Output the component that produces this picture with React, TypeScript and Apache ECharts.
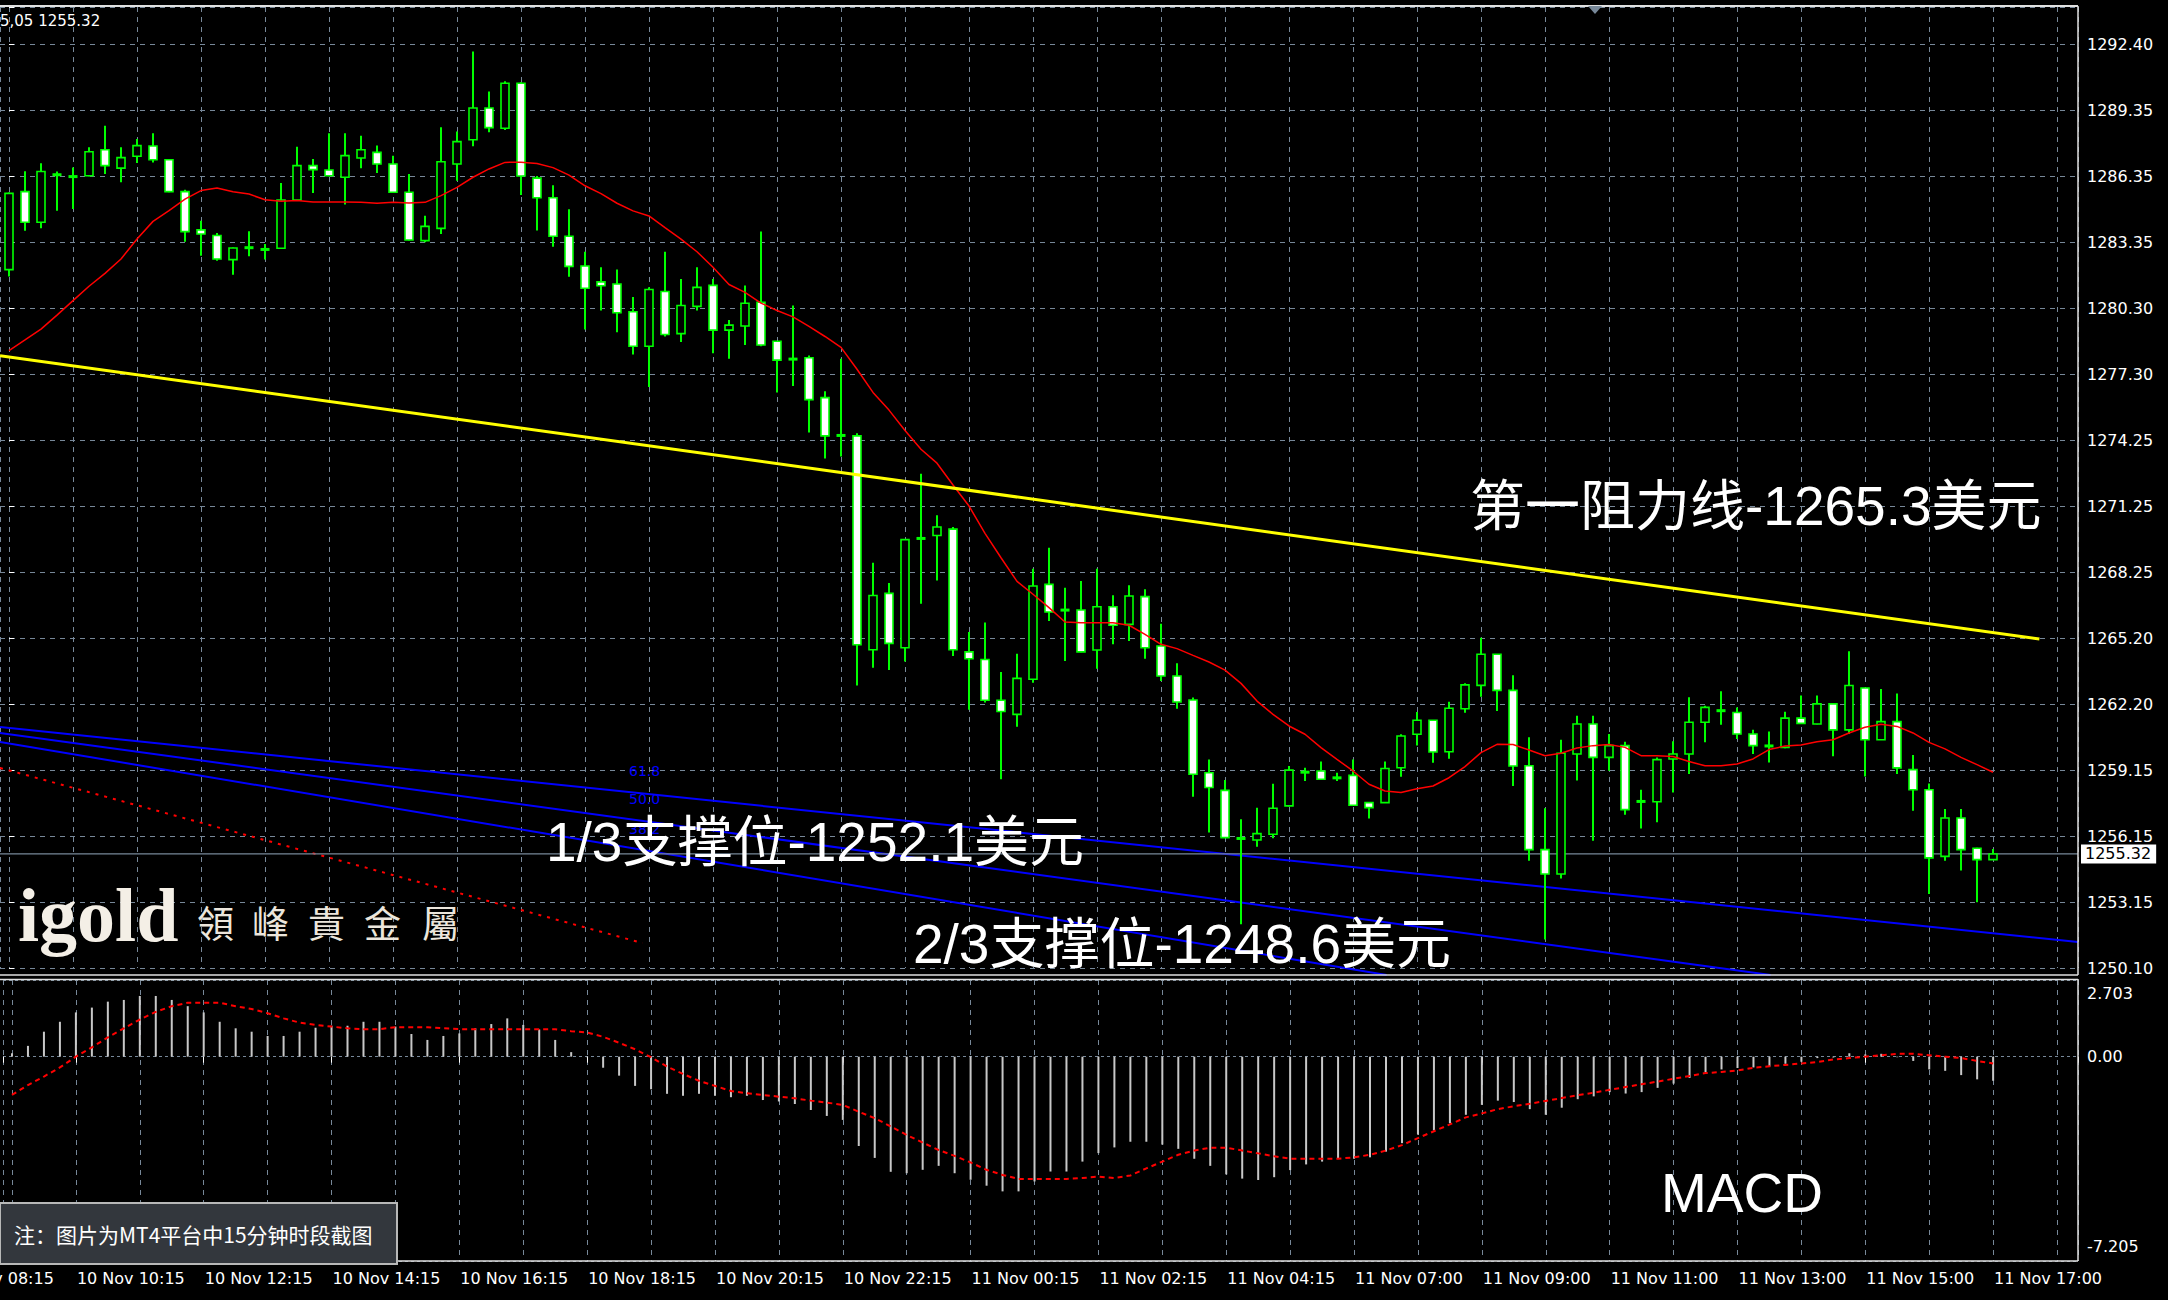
import React, { useEffect, useRef } from "react";
import * as echarts from "echarts";

// ---------- DATA ----------
const OPEN = [1282.07,1285.64,1284.24,1286.37,1286.30,1286.37,1287.56,1286.72,1287.26,1287.73,1287.10,1285.64,1283.89,1283.63,1282.53,1283.03,1282.98,1283.05,1285.26,1286.83,1286.63,1286.30,1287.18,1287.44,1286.91,1285.61,1283.40,1283.96,1286.91,1288.02,1289.47,1288.54,1290.60,1286.26,1285.36,1283.60,1282.24,1281.51,1281.41,1280.14,1278.56,1281.07,1279.14,1280.39,1281.35,1279.30,1279.49,1280.58,1278.79,1278.00,1278.04,1276.21,1274.50,1274.46,1264.67,1267.25,1264.76,1269.73,1269.90,1270.19,1264.57,1264.22,1262.36,1261.71,1263.32,1267.66,1266.47,1266.49,1264.66,1266.64,1265.83,1267.10,1264.84,1263.47,1262.37,1259.04,1258.23,1256.00,1255.96,1256.22,1257.52,1259.06,1259.12,1258.80,1258.92,1257.67,1257.67,1259.27,1260.80,1261.44,1260.00,1261.97,1263.04,1264.46,1262.81,1259.36,1255.52,1254.40,1259.90,1261.27,1259.74,1260.28,1257.72,1257.71,1259.67,1259.90,1261.35,1261.86,1261.80,1260.81,1260.25,1260.20,1261.54,1261.27,1262.19,1261.00,1262.92,1260.55,1261.38,1259.18,1258.26,1255.21,1256.97,1255.58,1255.06];
const HIGH = [1285.60,1286.57,1286.94,1286.56,1286.75,1287.67,1288.66,1287.67,1288.05,1288.31,1287.12,1285.73,1284.31,1283.75,1283.08,1283.83,1283.25,1286.04,1287.70,1287.14,1288.31,1288.31,1288.20,1287.75,1287.29,1286.45,1284.54,1288.59,1288.39,1292.06,1290.23,1290.69,1290.65,1286.36,1285.93,1284.84,1282.89,1282.18,1282.08,1280.82,1281.26,1282.89,1281.64,1282.18,1281.64,1279.77,1281.35,1283.82,1278.80,1280.43,1278.14,1276.50,1277.99,1274.58,1268.65,1267.73,1269.71,1272.73,1270.83,1270.29,1265.48,1265.92,1263.65,1264.49,1268.38,1269.34,1267.51,1267.82,1268.38,1267.16,1267.62,1267.44,1265.86,1264.05,1262.48,1259.65,1258.71,1256.91,1257.44,1258.54,1259.35,1259.27,1259.55,1259.04,1259.65,1257.70,1259.55,1260.80,1261.82,1261.45,1262.29,1263.13,1265.22,1264.47,1263.50,1260.66,1257.41,1260.55,1261.65,1261.65,1260.81,1260.46,1258.26,1259.74,1260.48,1262.49,1262.11,1262.77,1262.03,1261.01,1260.93,1261.83,1262.57,1262.57,1262.20,1264.60,1262.93,1262.87,1262.67,1259.85,1258.55,1257.38,1257.38,1255.60,1255.55];
const LOW = [1281.76,1283.85,1283.96,1284.77,1284.85,1286.35,1286.45,1286.07,1286.95,1286.98,1285.61,1283.35,1282.71,1282.48,1281.84,1282.68,1282.53,1283.03,1285.24,1285.58,1286.35,1285.05,1286.71,1286.49,1285.60,1283.41,1283.32,1283.70,1286.14,1287.72,1288.36,1288.46,1285.49,1283.86,1283.12,1281.74,1279.33,1280.20,1279.20,1278.18,1276.70,1279.01,1278.76,1280.20,1278.24,1277.99,1278.62,1278.56,1276.45,1276.74,1274.62,1273.42,1273.52,1263.03,1263.84,1263.74,1264.13,1266.77,1267.84,1264.38,1261.92,1262.26,1258.74,1261.15,1263.16,1265.99,1264.15,1264.55,1263.80,1264.92,1265.07,1264.26,1263.24,1261.97,1257.94,1256.30,1256.05,1252.10,1255.65,1256.04,1257.50,1258.66,1258.72,1258.66,1257.53,1256.94,1257.65,1258.86,1260.29,1259.50,1259.68,1261.79,1262.52,1261.87,1258.43,1255.01,1251.40,1254.20,1258.68,1255.93,1259.13,1257.12,1256.49,1256.77,1258.14,1258.98,1260.43,1261.24,1260.58,1259.90,1259.51,1260.16,1261.29,1261.26,1259.79,1260.81,1258.87,1260.54,1258.98,1257.30,1253.49,1255.01,1254.56,1253.11,1255.05];
const CLOSE = [1285.56,1284.24,1286.56,1286.46,1286.36,1287.47,1286.83,1287.20,1287.75,1287.10,1285.64,1283.81,1283.70,1282.56,1283.06,1283.12,1283.01,1285.26,1286.83,1286.65,1286.37,1287.29,1287.56,1286.91,1285.61,1283.43,1284.05,1287.01,1287.93,1289.47,1288.57,1290.60,1286.36,1285.36,1283.60,1282.22,1281.22,1281.33,1280.10,1278.56,1281.16,1279.10,1280.43,1281.26,1279.30,1279.53,1280.53,1278.62,1277.93,1277.95,1276.12,1274.46,1274.46,1264.90,1267.15,1264.96,1269.71,1269.80,1270.29,1264.67,1264.26,1262.36,1261.84,1263.36,1267.59,1266.40,1266.50,1264.57,1266.64,1265.79,1267.13,1264.76,1263.47,1262.28,1258.97,1258.36,1256.07,1256.06,1256.25,1257.41,1259.16,1259.07,1258.74,1258.81,1257.55,1257.44,1259.23,1260.72,1261.44,1259.99,1261.99,1263.06,1264.46,1262.81,1259.35,1255.52,1254.40,1259.93,1261.27,1259.74,1260.28,1257.35,1257.73,1259.64,1259.90,1261.35,1262.03,1261.90,1260.81,1260.28,1260.28,1261.54,1261.30,1262.19,1261.00,1263.03,1260.55,1261.38,1259.26,1258.26,1255.14,1256.97,1255.52,1255.06,1255.32];
const MA = [1278.36,1278.85,1279.35,1279.99,1280.65,1281.31,1281.90,1282.56,1283.47,1284.28,1284.77,1285.30,1285.69,1285.81,1285.64,1285.53,1285.27,1285.20,1285.24,1285.17,1285.17,1285.17,1285.15,1285.11,1285.15,1285.12,1285.15,1285.46,1285.84,1286.30,1286.68,1286.98,1286.99,1286.93,1286.74,1286.40,1285.91,1285.55,1285.11,1284.76,1284.53,1283.99,1283.47,1282.89,1282.18,1281.39,1281.03,1280.54,1280.20,1279.91,1279.47,1279.01,1278.51,1277.51,1276.45,1275.64,1274.71,1273.85,1273.21,1272.21,1271.25,1270.00,1268.88,1267.80,1267.21,1266.60,1265.94,1265.91,1265.91,1265.91,1265.79,1265.37,1264.92,1264.72,1264.41,1264.11,1263.74,1263.13,1262.32,1261.71,1261.18,1260.80,1260.19,1259.65,1259.12,1258.51,1258.20,1258.13,1258.31,1258.43,1258.81,1259.32,1259.96,1260.34,1260.33,1260.08,1259.82,1259.93,1260.17,1260.28,1260.33,1260.20,1259.82,1259.82,1259.78,1259.55,1259.36,1259.36,1259.44,1259.67,1260.10,1260.26,1260.31,1260.46,1260.55,1260.86,1261.12,1261.26,1261.16,1260.86,1260.43,1260.13,1259.74,1259.41,1259.06];
const MACD_HIST = [0.12,0.38,0.88,1.23,1.56,1.73,1.94,2.00,2.14,2.14,2.00,1.78,1.56,1.23,1.00,0.88,0.73,0.73,0.88,1.02,1.09,1.09,1.23,1.23,1.06,0.80,0.59,0.73,0.82,1.00,1.15,1.35,1.12,0.96,0.59,0.16,-0.02,-0.39,-0.67,-1.03,-1.15,-1.31,-1.38,-1.31,-1.38,-1.43,-1.38,-1.53,-1.58,-1.67,-1.88,-2.09,-2.23,-3.15,-3.57,-4.06,-4.11,-3.99,-3.85,-4.11,-4.34,-4.55,-4.75,-4.75,-4.40,-4.05,-4.05,-3.70,-3.40,-3.20,-3.00,-3.00,-3.10,-3.25,-3.60,-3.85,-4.15,-4.30,-4.35,-4.25,-4.00,-3.80,-3.70,-3.60,-3.60,-3.55,-3.35,-3.05,-2.75,-2.60,-2.35,-2.05,-1.70,-1.55,-1.60,-1.85,-2.05,-1.80,-1.50,-1.40,-1.25,-1.30,-1.25,-1.10,-0.95,-0.75,-0.55,-0.45,-0.40,-0.38,-0.35,-0.25,-0.18,-0.05,-0.03,0.12,0.08,0.10,-0.02,-0.15,-0.45,-0.50,-0.65,-0.80,-0.85];
const MACD_SIGNAL = [-1.35,-1.00,-0.70,-0.38,0.00,0.33,0.68,1.00,1.31,1.58,1.78,1.90,1.90,1.90,1.78,1.68,1.53,1.35,1.20,1.12,1.06,1.00,0.97,0.97,1.04,1.04,1.04,1.00,0.97,0.97,0.97,0.97,0.97,0.97,0.97,0.90,0.85,0.70,0.49,0.26,-0.02,-0.35,-0.61,-0.85,-1.03,-1.21,-1.29,-1.35,-1.41,-1.47,-1.55,-1.62,-1.70,-1.94,-2.17,-2.46,-2.76,-3.03,-3.29,-3.50,-3.73,-3.99,-4.17,-4.31,-4.31,-4.31,-4.31,-4.28,-4.23,-4.28,-4.19,-3.94,-3.70,-3.46,-3.31,-3.21,-3.21,-3.31,-3.41,-3.51,-3.60,-3.60,-3.60,-3.60,-3.55,-3.46,-3.31,-3.12,-2.87,-2.63,-2.39,-2.14,-2.00,-1.85,-1.75,-1.66,-1.56,-1.46,-1.36,-1.27,-1.17,-1.07,-0.97,-0.88,-0.78,-0.68,-0.58,-0.54,-0.49,-0.39,-0.34,-0.29,-0.24,-0.19,-0.10,-0.05,0.00,0.05,0.10,0.10,0.05,0.00,-0.05,-0.15,-0.24];

// time labels: one every 8 bars, the first one sits 4 bars left of bar 0
const X_LABELS = ["10 Nov 08:15","10 Nov 10:15","10 Nov 12:15","10 Nov 14:15","10 Nov 16:15","10 Nov 18:15","10 Nov 20:15","10 Nov 22:15","11 Nov 00:15","11 Nov 02:15","11 Nov 04:15","11 Nov 07:00","11 Nov 09:00","11 Nov 11:00","11 Nov 13:00","11 Nov 15:00","11 Nov 17:00"];
const Y_LABELS = ["1250.10","1253.15","1256.15","1259.15","1262.20","1265.20","1268.25","1271.25","1274.25","1277.30","1280.30","1283.35","1286.35","1289.35","1292.40"];
const MACD_LABELS = ["-7.205", "0.00", "2.703"];

const BID = 1255.32;
const YELLOW_LINE = [[-0.5625, 1278.13], [126.9, 1265.16]];
const RED_TREND = [[-0.5625, 1259.26], [39.6, 1251.24]];
const FIB_A = [[-0.5625, 1261.13], [129.3125, 1251.29]];
const FIB_B = [[-0.5625, 1260.86], [110.1, 1249.78]];
const FIB_C = [[-0.5625, 1260.45], [86.1, 1249.78]];

// axis settings
const Y_MIN = 1250.10;
const Y_MAX = 1294.094;
const Y_STEP = 42.3 / 14;
const X_MIN = -0.5625;
const X_MAX = 129.3125;
const LABEL_SHIFT = 4; // label axis counts bars from the first (hidden) label
const M_MIN = -7.205;
const M_MAX = 2.703;

const GRID_COLOR = "#778899";
const AXIS_FONT = "DejaVu Sans";
const BIG_FONT = '"Liberation Sans", "Noto Sans CJK SC", sans-serif';

export default function App() {
  const ref = useRef<HTMLDivElement>(null);
  useEffect(() => {
    if (!ref.current) return;
    const chart = echarts.init(ref.current, null, { renderer: "svg" });

    const candleData = OPEN.map((o, i) => [i, o, CLOSE[i], LOW[i], HIGH[i]]);

    const renderCandle = (params: any, api: any) => {
      const i = api.value(0);
      const o = api.value(1), c = api.value(2), l = api.value(3), h = api.value(4);
      const pO = api.coord([i, o]);
      const pC = api.coord([i, c]);
      const pL = api.coord([i, l]);
      const pH = api.coord([i, h]);
      const x = Math.round(pO[0]);
      const top = Math.min(pO[1], pC[1]);
      const bot = Math.max(pO[1], pC[1]);
      const children: any[] = [
        { type: "line", shape: { x1: x, y1: pH[1], x2: x, y2: pL[1] }, style: { stroke: "#00ff00", lineWidth: 2 } },
      ];
      if (bot - top < 2.5) {
        children.push({ type: "rect", shape: { x: x - 4.5, y: (top + bot) / 2 - 1.5, width: 9, height: 3 }, style: { fill: "#00ff00" } });
      } else {
        children.push({
          type: "rect",
          shape: { x: x - 4, y: top, width: 8, height: bot - top },
          style: { fill: c >= o ? "#000000" : "#ffffff", stroke: "#00ff00", lineWidth: 1.6 },
        });
      }
      return { type: "group", children };
    };

    const dashed = { color: GRID_COLOR, type: [5, 5] as any, width: 1 };

    const option: any = {
      animation: false,
      backgroundColor: "#000000",
      grid: [
        { left: 0, width: 2078, top: 7, height: 961 },
        { left: 0, width: 2078, top: 980, height: 281 },
      ],
      xAxis: [
        {
          type: "value", gridIndex: 0, min: X_MIN, max: X_MAX, minInterval: 4, maxInterval: 4,
          axisLine: { show: false }, axisTick: { show: false }, axisLabel: { show: false },
          splitLine: { show: true, lineStyle: dashed },
        },
        {
          type: "value", gridIndex: 1, min: X_MIN + LABEL_SHIFT, max: X_MAX + LABEL_SHIFT,
          minInterval: 8, maxInterval: 8, position: "bottom",
          axisLine: { show: false },
          axisTick: { show: true, length: 6, lineStyle: { color: "#ffffff", width: 1 } },
          splitLine: { show: false },
          axisLabel: {
            show: true, showMinLabel: true, showMaxLabel: true, color: "#ffffff", fontSize: 16,
            fontFamily: AXIS_FONT, align: "left", margin: 9, padding: [0, 0, 0, 1],
            formatter: (v: number) => {
              const k = Math.round(v / 8);
              if (Math.abs(v - k * 8) < 1e-6 && k >= 0 && k < X_LABELS.length) return X_LABELS[k];
              return "";
            },
          },
        },
        {
          type: "value", gridIndex: 1, min: X_MIN, max: X_MAX, minInterval: 4, maxInterval: 4, position: "top",
          axisLine: { show: false }, axisTick: { show: false }, axisLabel: { show: false },
          splitLine: { show: true, lineStyle: dashed },
        },
      ],
      yAxis: [
        {
          type: "value", gridIndex: 0, position: "right", min: Y_MIN, max: Y_MAX, interval: Y_STEP,
          axisLine: { show: false },
          axisTick: { show: true, length: 5, lineStyle: { color: "#ffffff" } },
          splitLine: { show: true, lineStyle: dashed },
          axisLabel: {
            color: "#ffffff", fontSize: 16, fontFamily: AXIS_FONT, margin: 9, showMaxLabel: true,
            formatter: (v: number) => {
              const k = Math.round((v - Y_MIN) / Y_STEP);
              if (Math.abs(v - (Y_MIN + k * Y_STEP)) < 0.01 && k >= 0 && k < Y_LABELS.length) return Y_LABELS[k];
              return "";
            },
          },
        },
        {
          type: "value", gridIndex: 1, position: "right", min: M_MIN, max: M_MAX, interval: -M_MIN,
          axisLine: { show: false },
          axisTick: { show: false },
          splitLine: { show: true, lineStyle: { color: GRID_COLOR, type: [3, 3], width: 1 } },
          axisLabel: {
            color: "#ffffff", fontSize: 16, fontFamily: AXIS_FONT, margin: 9,
            showMinLabel: true, showMaxLabel: true,
            formatter: (v: number) => {
              if (Math.abs(v - M_MAX) < 1e-6) return "{t|" + MACD_LABELS[2] + "}";
              if (Math.abs(v) < 1e-6) return MACD_LABELS[1];
              if (Math.abs(v - M_MIN) < 1e-6) return "{b|" + MACD_LABELS[0] + "}";
              return "";
            },
            rich: {
              t: { color: "#ffffff", fontSize: 16, fontFamily: AXIS_FONT, padding: [26, 0, 0, 0] },
              b: { color: "#ffffff", fontSize: 16, fontFamily: AXIS_FONT, padding: [0, 0, 30, 0] },
            },
          },
        },
      ],
      series: [
        {
          name: "fibA", type: "line", xAxisIndex: 0, yAxisIndex: 0, data: FIB_A, clip: false,
          showSymbol: false, symbol: "none", lineStyle: { color: "#0000ff", width: 2 }, z: 2,
        },
        {
          name: "fibB", type: "line", xAxisIndex: 0, yAxisIndex: 0, data: FIB_B, clip: false,
          showSymbol: false, symbol: "none", lineStyle: { color: "#0000ff", width: 2 }, z: 2,
        },
        {
          name: "fibC", type: "line", xAxisIndex: 0, yAxisIndex: 0, data: FIB_C, clip: false,
          showSymbol: false, symbol: "none", lineStyle: { color: "#0000ff", width: 2 }, z: 2,
        },
        {
          name: "redTrend", type: "line", xAxisIndex: 0, yAxisIndex: 0, data: RED_TREND,
          showSymbol: false, symbol: "none", lineStyle: { color: "#ff0000", width: 2, type: [3, 6] }, z: 2,
        },
        {
          name: "bid", type: "line", xAxisIndex: 0, yAxisIndex: 0,
          data: [[X_MIN, BID], [X_MAX, BID]],
          showSymbol: false, symbol: "none", lineStyle: { color: GRID_COLOR, width: 1.2 }, z: 2,
          endLabel: {
            show: true, formatter: BID.toFixed(2), backgroundColor: "#ffffff", color: "#000000",
            fontSize: 16, fontFamily: AXIS_FONT, padding: [2, 5, 1, 4], distance: 3,
          },
        },
        {
          name: "candles", type: "custom", xAxisIndex: 0, yAxisIndex: 0, data: candleData,
          encode: { x: 0, y: [1, 2, 3, 4] }, renderItem: renderCandle, z: 3,
        },
        {
          name: "ma", type: "line", xAxisIndex: 0, yAxisIndex: 0, data: MA.map((v, i) => [i, v]),
          showSymbol: false, symbol: "none", lineStyle: { color: "#ff0000", width: 1.5 }, z: 4,
        },
        {
          name: "yellow", type: "line", xAxisIndex: 0, yAxisIndex: 0, data: YELLOW_LINE,
          showSymbol: false, symbol: "none", lineStyle: { color: "#ffff00", width: 3 }, z: 4,
        },
        {
          name: "macd", type: "bar", xAxisIndex: 2, yAxisIndex: 1,
          data: MACD_HIST.map((v, i) => [i, v]), barWidth: 2,
          itemStyle: { color: "#c8c8c8" }, z: 3,
        },
        {
          name: "signal", type: "line", xAxisIndex: 2, yAxisIndex: 1,
          data: MACD_SIGNAL.map((v, i) => [i, v]),
          showSymbol: false, symbol: "none", lineStyle: { color: "#ff0000", width: 2, type: [5, 4] }, z: 4,
        },
      ],
      graphic: [
        // panel borders
        { type: "line", shape: { x1: 0, y1: 6, x2: 2078, y2: 6 }, style: { stroke: "#e0e0e0", lineWidth: 2 }, z: 50 },
        { type: "line", shape: { x1: 2078, y1: 6, x2: 2078, y2: 975 }, style: { stroke: "#e0e0e0", lineWidth: 1.5 }, z: 50 },
        { type: "line", shape: { x1: 0, y1: 975, x2: 2078, y2: 975 }, style: { stroke: "#e0e0e0", lineWidth: 1.5 }, z: 50 },
        { type: "line", shape: { x1: 0, y1: 979.5, x2: 2078, y2: 979.5 }, style: { stroke: "#e0e0e0", lineWidth: 1.5 }, z: 50 },
        { type: "line", shape: { x1: 2078, y1: 979, x2: 2078, y2: 1261 }, style: { stroke: "#e0e0e0", lineWidth: 1.5 }, z: 50 },
        { type: "line", shape: { x1: 0, y1: 1261, x2: 2078, y2: 1261 }, style: { stroke: "#e0e0e0", lineWidth: 1.5 }, z: 50 },
        // first time label, cut by the left edge as in the original screenshot
        { type: "text", x: -54, y: 1270, style: { text: X_LABELS[0], fill: "#ffffff", fontSize: 16, fontFamily: AXIS_FONT, textVerticalAlign: "top" }, z: 51 },
        // shift marker
        { type: "polygon", shape: { points: [[1588, 6], [1602, 6], [1595, 14]] }, style: { fill: GRID_COLOR }, z: 51 },
        // top-left info text
        { type: "text", x: 0, y: 21, style: { text: "5,05 1255.32", fill: "#ffffff", fontSize: 15, fontFamily: AXIS_FONT, textVerticalAlign: "middle" }, z: 51 },
        // fib labels
        { type: "text", x: 629, y: 771, style: { text: "61.8", fill: "#0000ff", fontSize: 14, fontFamily: AXIS_FONT, textVerticalAlign: "middle" }, z: 10 },
        { type: "text", x: 629, y: 799, style: { text: "50.0", fill: "#0000ff", fontSize: 14, fontFamily: AXIS_FONT, textVerticalAlign: "middle" }, z: 10 },
        { type: "text", x: 629, y: 829, style: { text: "38.2", fill: "#0000ff", fontSize: 14, fontFamily: AXIS_FONT, textVerticalAlign: "middle" }, z: 10 },
        // watermark
        { type: "text", x: 18, y: 915, style: { text: "igold", fill: "#f4efe6", fontSize: 76, fontWeight: "bold", fontFamily: '"Liberation Serif", "DejaVu Serif", serif', textVerticalAlign: "middle", shadowColor: "#8a5a2a", shadowBlur: 10 }, z: 20 },
        ...["領", "峰", "貴", "金", "屬"].map((ch, k) => ({
          type: "text", x: [197, 252, 308, 364, 422][k], y: 922,
          style: { text: ch, fill: "#ece6dc", fontSize: 37, fontFamily: '"Noto Sans CJK TC", sans-serif', textVerticalAlign: "middle", shadowColor: "#8a5a2a", shadowBlur: 8 },
          z: 20,
        })),
        // annotations
        { type: "text", x: 1470, y: 506, style: { text: "第一阻力线-1265.3美元", fill: "#ffffff", fontSize: 55, fontFamily: BIG_FONT, textVerticalAlign: "middle" }, z: 60 },
        { type: "text", x: 546, y: 842, style: { text: "1/3支撑位-1252.1美元", fill: "#ffffff", fontSize: 55, fontFamily: BIG_FONT, textVerticalAlign: "middle" }, z: 60 },
        { type: "text", x: 913, y: 944, style: { text: "2/3支撑位-1248.6美元", fill: "#ffffff", fontSize: 55, fontFamily: BIG_FONT, textVerticalAlign: "middle" }, z: 60 },
        { type: "text", x: 1661, y: 1193, style: { text: "MACD", fill: "#ffffff", fontSize: 55, fontFamily: BIG_FONT, textVerticalAlign: "middle" }, z: 60 },
        // note box
        { type: "rect", shape: { x: 0, y: 1203, width: 397, height: 61 }, style: { fill: "#33373d", stroke: "#b8b8b8", lineWidth: 2 }, z: 70 },
        { type: "text", x: 14, y: 1234, style: { text: "注：图片为MT4平台中15分钟时段截图", fill: "#ffffff", fontSize: 21, fontFamily: '"Noto Sans CJK SC", sans-serif', textVerticalAlign: "middle" }, z: 71 },
      ],
    };

    chart.setOption(option);
    return () => chart.dispose();
  }, []);

  return (
    <div
      ref={ref}
      style={{ position: "absolute", left: 0, top: 0, width: 2168, height: 1300, background: "#000" }}
    />
  );
}
